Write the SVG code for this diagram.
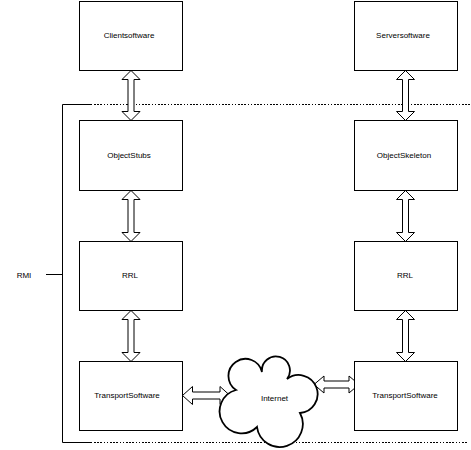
<svg xmlns="http://www.w3.org/2000/svg" width="471" height="450" viewBox="0 0 471 450">
<style>
.box{fill:#fff;stroke:#000;stroke-width:1}
.lbl{font-family:"Liberation Sans",Arial,sans-serif;font-size:8px;fill:#000;text-anchor:middle}
.arr{fill:#fff;stroke:#000;stroke-width:1;stroke-linejoin:miter}
.solid{fill:none;stroke:#000;stroke-width:1}
.dash{fill:none;stroke:#000;stroke-width:1;stroke-dasharray:2,1,2,1,2,2,1,2,1,2}
.cloud{fill:#fff;stroke:#000;stroke-width:1.8}
</style>
<rect width="471" height="450" fill="#fff"/>
<g id="rmi-bracket">
<path class="solid" d="M92,104.5 H62.5 V442.5 H92"/>
<path class="dash" d="M94,104.5 H470"/>
<path class="dash" d="M94,442.5 H468"/>
<path class="solid" d="M46,274.5 H62.5"/>
<text class="lbl" x="24" y="278">RMI</text>
</g>
<g id="connectors">
<polygon class="arr" points="131,70.5 140,79.5 134,79.5 134,111.5 140,111.5 131,120.5 122,111.5 128,111.5 128,79.5 122,79.5"/>
<polygon class="arr" points="131,190.5 140,199.5 134,199.5 134,232.5 140,232.5 131,241.5 122,232.5 128,232.5 128,199.5 122,199.5"/>
<polygon class="arr" points="131,310.5 140,319.5 134,319.5 134,352.5 140,352.5 131,361.5 122,352.5 128,352.5 128,319.5 122,319.5"/>
<polygon class="arr" points="405.5,70.5 414.5,79.5 408.5,79.5 408.5,111.5 414.5,111.5 405.5,120.5 396.5,111.5 402.5,111.5 402.5,79.5 396.5,79.5"/>
<polygon class="arr" points="405.5,190.5 414.5,199.5 408.5,199.5 408.5,232.5 414.5,232.5 405.5,241.5 396.5,232.5 402.5,232.5 402.5,199.5 396.5,199.5"/>
<polygon class="arr" points="405.5,310.5 414.5,319.5 408.5,319.5 408.5,352.5 414.5,352.5 405.5,361.5 396.5,352.5 402.5,352.5 402.5,319.5 396.5,319.5"/>
<polygon class="arr" points="182.5,395.5 192.5,386.5 192.5,392 220,392 220,386.5 230,395.5 220,404.5 220,399 192.5,399 192.5,404.5"/>
<polygon class="arr" points="314,384.5 324,376 324,381 349,381 349,376 359,384.5 349,393 349,388 324,388 324,393"/>
</g>
<g id="clientsoftware">
<rect class="box" x="79.5" y="1.5" width="103" height="69"/>
<text class="lbl" x="129" y="38">Clientsoftware</text>
</g>
<g id="serversoftware">
<rect class="box" x="354.5" y="1.5" width="103" height="69"/>
<text class="lbl" x="403" y="38">Serversoftware</text>
</g>
<g id="objectstubs">
<rect class="box" x="79.5" y="120.5" width="103" height="70"/>
<text class="lbl" x="129" y="158">ObjectStubs</text>
</g>
<g id="objectskeleton">
<rect class="box" x="354.5" y="120.5" width="103" height="70"/>
<text class="lbl" x="404" y="158">ObjectSkeleton</text>
</g>
<g id="rrl-left">
<rect class="box" x="79.5" y="241.5" width="103" height="69"/>
<text class="lbl" x="130" y="278">RRL</text>
</g>
<g id="rrl-right">
<rect class="box" x="354.5" y="241.5" width="103" height="69"/>
<text class="lbl" x="405" y="278">RRL</text>
</g>
<g id="transport-left">
<rect class="box" x="79.5" y="361.5" width="103" height="69"/>
<text class="lbl" x="127" y="398">TransportSoftware</text>
</g>
<g id="transport-right">
<rect class="box" x="354.5" y="361.5" width="103" height="69"/>
<text class="lbl" x="405" y="398">TransportSoftware</text>
</g>
<g id="internet">
<path class="cloud" d="M236,390 A17,17 0 1 1 262,372 A14,14 0 1 1 287,379 A19,19 0 1 1 300,413 A23,23 0 1 1 257,427 A22,22 0 1 1 236,390 Z"/>
<text class="lbl" x="274.5" y="401">Internet</text>
</g>
</svg>
